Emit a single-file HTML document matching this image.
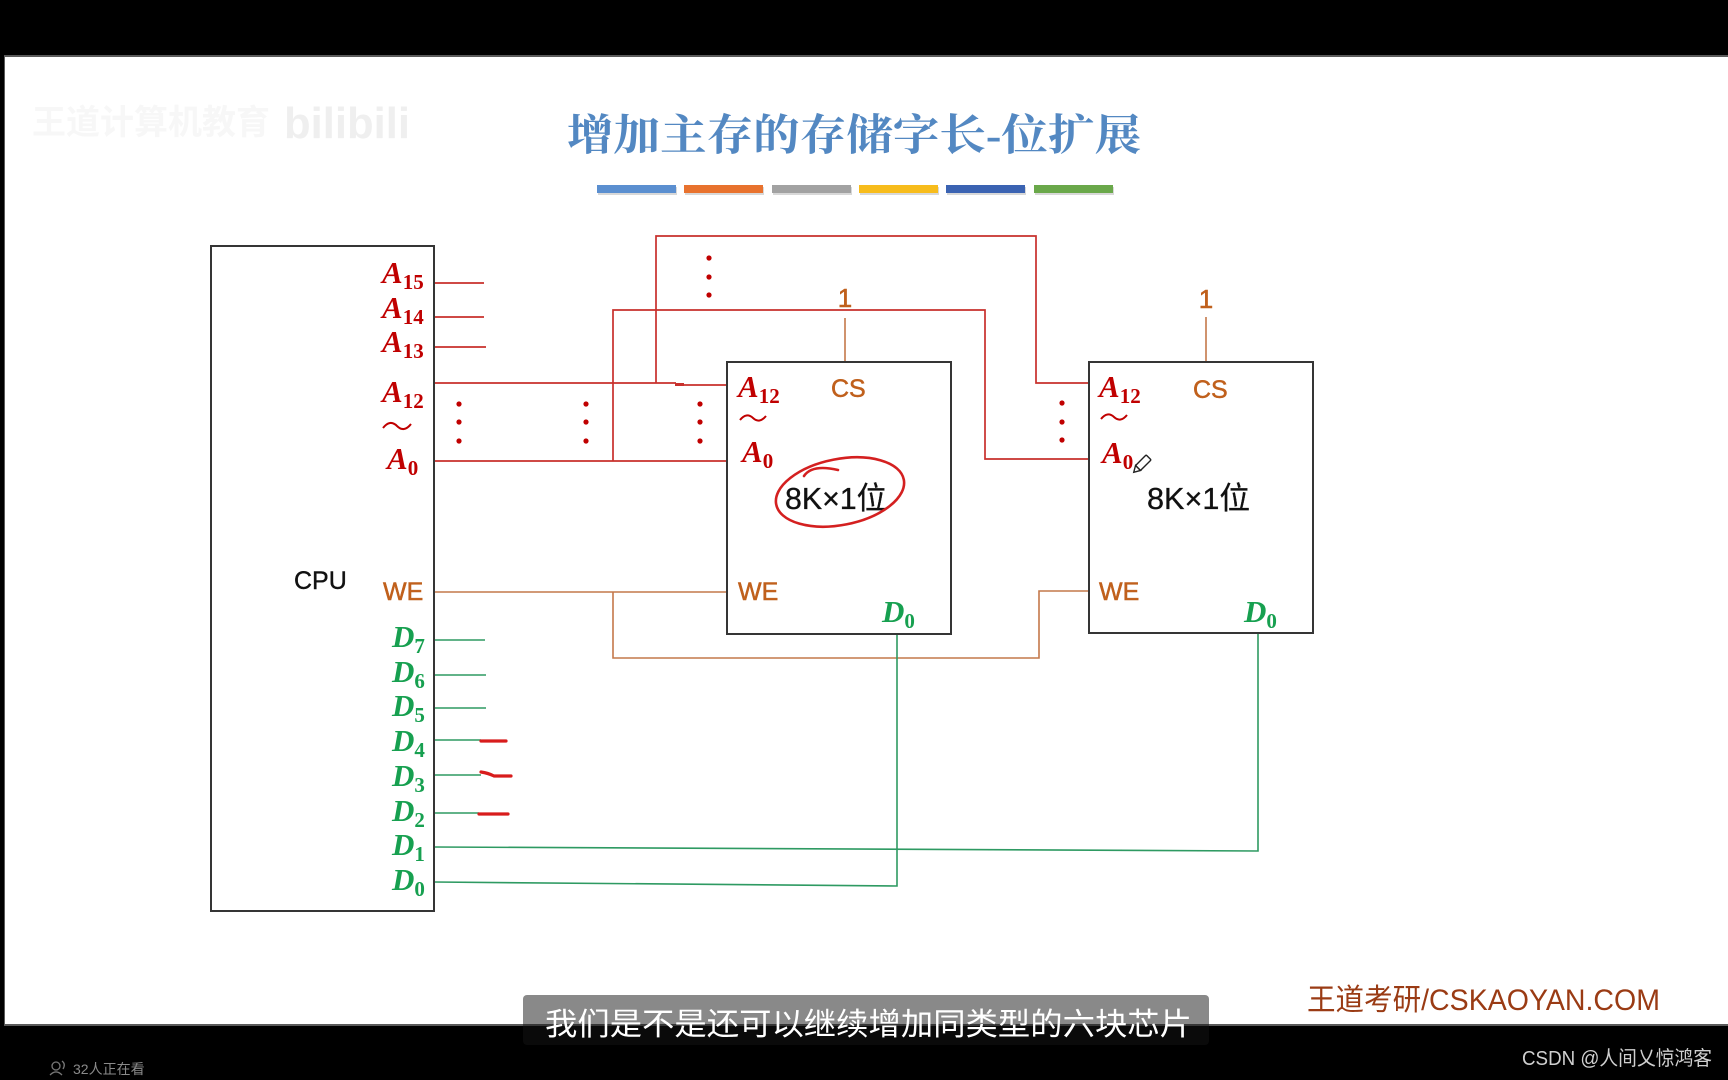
<!DOCTYPE html>
<html>
<head>
<meta charset="utf-8">
<style>
html,body{margin:0;padding:0;background:#000;}
body{width:1728px;height:1080px;overflow:hidden;}
svg{display:block;}
.ai{font-family:"Liberation Serif",serif;font-style:italic;font-weight:bold;}
.sub{font-family:"Liberation Serif",serif;font-style:normal;font-weight:bold;}
.sans{font-family:"Liberation Sans","Noto Sans CJK SC",sans-serif;}
</style>
</head>
<body>
<svg width="1728" height="1080" viewBox="0 0 1728 1080" xmlns="http://www.w3.org/2000/svg">
  <!-- frame -->
  <rect x="0" y="0" width="1728" height="1080" fill="#000"/>
  <rect x="4" y="55" width="1724" height="971" fill="#5a5a5a"/>
  <rect x="5" y="57" width="1723" height="967" fill="#fff"/>

  <!-- watermark -->
  <text x="32" y="134" font-family="'Liberation Sans','Noto Sans CJK SC',sans-serif" font-size="34" fill="#f7f7f7" font-weight="bold">王道计算机教育</text>
  <text x="284" y="138" font-family="'Liberation Sans',sans-serif" font-size="44" fill="#efefef" font-weight="bold" textLength="126" lengthAdjust="spacingAndGlyphs">bilibili</text>

  <!-- title -->
  <text x="567" y="150" font-family="'Liberation Serif','Noto Serif CJK SC',serif" font-size="43" font-weight="bold" fill="#5388c2" textLength="574" lengthAdjust="spacingAndGlyphs">增加主存的存储字长-位扩展</text>

  <!-- color bars -->
  <g>
    <rect x="598" y="187" width="79" height="8" fill="#d8d8d8"/>
    <rect x="685" y="187" width="79" height="8" fill="#d8d8d8"/>
    <rect x="773" y="187" width="79" height="8" fill="#d8d8d8"/>
    <rect x="860" y="187" width="79" height="8" fill="#d8d8d8"/>
    <rect x="947" y="187" width="79" height="8" fill="#d8d8d8"/>
    <rect x="1035" y="187" width="79" height="8" fill="#d8d8d8"/>
    <rect x="597" y="185" width="79" height="8" fill="#5b8fd0"/>
    <rect x="684" y="185" width="79" height="8" fill="#e8722e"/>
    <rect x="772" y="185" width="79" height="8" fill="#a2a2a2"/>
    <rect x="859" y="185" width="79" height="8" fill="#f7bc1c"/>
    <rect x="946" y="185" width="79" height="8" fill="#3b63b2"/>
    <rect x="1034" y="185" width="79" height="8" fill="#6aa84a"/>
  </g>

  <!-- ============ wires ============ -->
  <g fill="none" stroke="#c8302c" stroke-width="1.7">
    <path d="M434,283 H484"/>
    <path d="M434,317 H484"/>
    <path d="M434,347 H486"/>
    <path d="M434,383 H676"/>
    <path d="M676,385 H727"/>
    <path d="M434,461 H727"/>
    <path d="M613,461 V310 H985 V459 H1089"/>
    <path d="M656,383 V236 H1036 V383 H1089"/>
  </g>
  <path d="M675,384.5 H684" stroke="#c8302c" stroke-width="3"/>

  <!-- dots -->
  <g fill="#c00000">
    <circle cx="459" cy="404" r="2.6"/><circle cx="459" cy="422" r="2.6"/><circle cx="459" cy="441" r="2.6"/>
    <circle cx="586" cy="404" r="2.6"/><circle cx="586" cy="422" r="2.6"/><circle cx="586" cy="441" r="2.6"/>
    <circle cx="700" cy="404" r="2.6"/><circle cx="700" cy="422" r="2.6"/><circle cx="700" cy="441" r="2.6"/>
    <circle cx="709" cy="258" r="2.6"/><circle cx="709" cy="277" r="2.6"/><circle cx="709" cy="295" r="2.6"/>
    <circle cx="1062" cy="403" r="2.6"/><circle cx="1062" cy="422" r="2.6"/><circle cx="1062" cy="440" r="2.6"/>
  </g>

  <!-- WE wires -->
  <g fill="none" stroke="#c4784a" stroke-width="1.6">
    <path d="M434,592 H727"/>
    <path d="M613,592 V658 H1039 V591 H1089"/>
    <path d="M845,318 V362"/>
    <path d="M1206,317 V362"/>
  </g>

  <!-- data wires -->
  <g fill="none" stroke="#2e9a62" stroke-width="1.6">
    <path d="M434,640 H485"/>
    <path d="M434,675 H486"/>
    <path d="M434,708 H486"/>
    <path d="M434,740 H481"/>
    <path d="M434,775 H481"/>
    <path d="M434,813 H479"/>
    <path d="M434,847 L1258,851 V633"/>
    <path d="M434,882 L897,886 V634"/>
  </g>
  <g fill="none" stroke="#d81c1c" stroke-width="3.2" stroke-linecap="round">
    <path d="M481,741 H506"/>
    <path d="M481,772 Q488,773 494,776 Q503,776 511,776"/>
    <path d="M479,814 H508"/>
  </g>

  <!-- ============ boxes ============ -->
  <g fill="none" stroke="#353535" stroke-width="2">
    <rect x="211" y="246" width="223" height="665"/>
    <rect x="727" y="362" width="224" height="272"/>
    <rect x="1089" y="362" width="224" height="271"/>
  </g>

  <!-- ============ CPU labels ============ -->
  <g fill="#c00000">
    <text x="382" y="283" class="ai" font-size="31">A<tspan class="sub" font-size="21" dy="6">15</tspan></text>
    <text x="382" y="318" class="ai" font-size="31">A<tspan class="sub" font-size="21" dy="6">14</tspan></text>
    <text x="382" y="352" class="ai" font-size="31">A<tspan class="sub" font-size="21" dy="6">13</tspan></text>
    <text x="382" y="402" class="ai" font-size="31">A<tspan class="sub" font-size="21" dy="6">12</tspan></text>
    <text x="387" y="469" class="ai" font-size="31">A<tspan class="sub" font-size="21" dy="6">0</tspan></text>
  </g>
  <g fill="none" stroke="#c00000" stroke-width="2">
    <path d="M383,428 q7,-9 14,-2 t14,-2"/>
    <path d="M740,420 q6.5,-8 13,-2 t13,-2"/>
    <path d="M1101,419 q6.5,-8 13,-2 t13,-2"/>
  </g>
  <text x="294" y="589" class="sans" font-size="25" fill="#111" stroke="#111" stroke-width="0.4">CPU</text>
  <text x="383" y="600" class="sans" font-size="25" fill="#c0601c" stroke="#c0601c" stroke-width="0.5">WE</text>
  <g fill="#17a050">
    <text x="392" y="647" class="ai" font-size="31">D<tspan class="sub" font-size="21" dy="6">7</tspan></text>
    <text x="392" y="682" class="ai" font-size="31">D<tspan class="sub" font-size="21" dy="6">6</tspan></text>
    <text x="392" y="716" class="ai" font-size="31">D<tspan class="sub" font-size="21" dy="6">5</tspan></text>
    <text x="392" y="751" class="ai" font-size="31">D<tspan class="sub" font-size="21" dy="6">4</tspan></text>
    <text x="392" y="786" class="ai" font-size="31">D<tspan class="sub" font-size="21" dy="6">3</tspan></text>
    <text x="392" y="821" class="ai" font-size="31">D<tspan class="sub" font-size="21" dy="6">2</tspan></text>
    <text x="392" y="855" class="ai" font-size="31">D<tspan class="sub" font-size="21" dy="6">1</tspan></text>
    <text x="392" y="890" class="ai" font-size="31">D<tspan class="sub" font-size="21" dy="6">0</tspan></text>
  </g>

  <!-- ============ chip1 labels ============ -->
  <text x="738" y="397" class="ai" font-size="31" fill="#c00000">A<tspan class="sub" font-size="21" dy="6">12</tspan></text>
  <text x="742" y="462" class="ai" font-size="31" fill="#c00000">A<tspan class="sub" font-size="21" dy="6">0</tspan></text>
  <text x="831" y="397" class="sans" font-size="25" fill="#c0601c" stroke="#c0601c" stroke-width="0.5">CS</text>
  <text x="845" y="307" class="sans" font-size="26" fill="#c0601c" stroke="#c0601c" stroke-width="0.5" text-anchor="middle">1</text>
  <text x="785" y="509" font-family="'Liberation Sans','Noto Sans CJK SC',sans-serif" font-size="31" fill="#111" stroke="#111" stroke-width="0.3" textLength="102" lengthAdjust="spacingAndGlyphs">8K×1位</text>
  <text x="738" y="600" class="sans" font-size="25" fill="#c0601c" stroke="#c0601c" stroke-width="0.5">WE</text>
  <text x="882" y="622" class="ai" font-size="31" fill="#17a050">D<tspan class="sub" font-size="21" dy="6">0</tspan></text>
  <g fill="none" stroke="#d42020" stroke-width="2.6" stroke-linecap="round">
    <ellipse cx="840" cy="492" rx="65" ry="33" transform="rotate(-11 840 492)"/>
    <path d="M804,476 Q812,464 838,470"/>
  </g>

  <!-- ============ chip2 labels ============ -->
  <text x="1099" y="397" class="ai" font-size="31" fill="#c00000">A<tspan class="sub" font-size="21" dy="6">12</tspan></text>
  <text x="1102" y="463" class="ai" font-size="31" fill="#c00000">A<tspan class="sub" font-size="21" dy="6">0</tspan></text>
  <text x="1193" y="398" class="sans" font-size="25" fill="#c0601c" stroke="#c0601c" stroke-width="0.5">CS</text>
  <text x="1206" y="308" class="sans" font-size="26" fill="#c0601c" stroke="#c0601c" stroke-width="0.5" text-anchor="middle">1</text>
  <text x="1147" y="509" font-family="'Liberation Sans','Noto Sans CJK SC',sans-serif" font-size="31" fill="#111" stroke="#111" stroke-width="0.3" textLength="103" lengthAdjust="spacingAndGlyphs">8K×1位</text>
  <text x="1099" y="600" class="sans" font-size="25" fill="#c0601c" stroke="#c0601c" stroke-width="0.5">WE</text>
  <text x="1244" y="622" class="ai" font-size="31" fill="#17a050">D<tspan class="sub" font-size="21" dy="6">0</tspan></text>
  <g transform="translate(1138,468) rotate(-45)" fill="#fff" stroke="#222" stroke-width="1.4">
    <rect x="0" y="-3.5" width="15" height="7" rx="1"/>
    <polygon points="0,-3.5 -6,0 0,3.5"/>
  </g>

  <!-- brand -->
  <text x="1307" y="1010" font-family="'Liberation Sans','Noto Sans CJK SC',sans-serif" font-size="30" fill="#9a3b14" textLength="353" lengthAdjust="spacingAndGlyphs">王道考研/CSKAOYAN.COM</text>

  <!-- subtitle -->
  <rect x="523" y="995" width="686" height="50" rx="4" fill="rgb(20,20,20)" fill-opacity="0.5"/>
  <text x="545" y="1035" font-family="'Liberation Sans','Noto Sans CJK SC',sans-serif" font-size="31" fill="#fff" textLength="647" lengthAdjust="spacingAndGlyphs">我们是不是还可以继续增加同类型的六块芯片</text>

  <!-- bottom bar -->
  <g fill="none" stroke="#777" stroke-width="1.3">
    <circle cx="56" cy="1066" r="4"/>
    <path d="M50,1075 q6,-6 12,0"/>
    <path d="M62,1061 q4,3 1,8"/>
  </g>
  <text x="73" y="1074" font-family="'Liberation Sans','Noto Sans CJK SC',sans-serif" font-size="14" fill="#8a8a8a">32人正在看</text>
  <text x="1522" y="1065" font-family="'Liberation Sans','Noto Sans CJK SC',sans-serif" font-size="20" fill="#cfcfcf" textLength="190" lengthAdjust="spacingAndGlyphs">CSDN @人间乂惊鸿客</text>
</svg>
</body>
</html>
